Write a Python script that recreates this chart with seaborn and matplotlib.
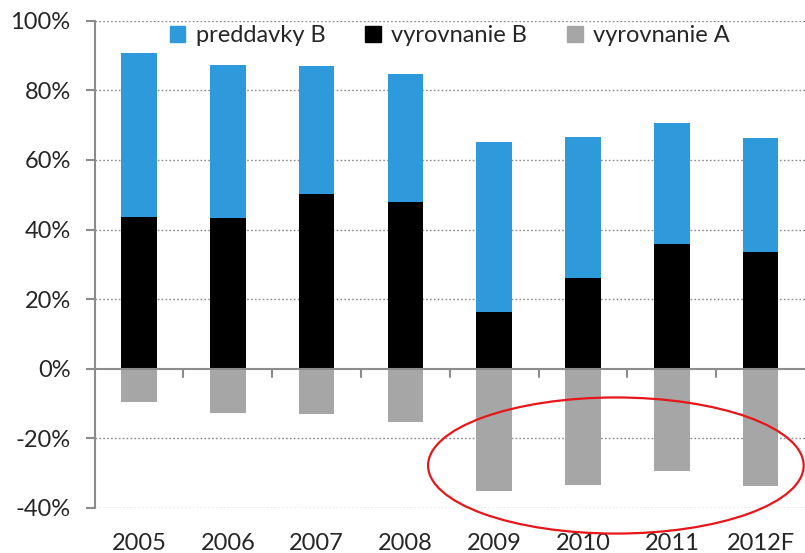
import matplotlib.pyplot as plt
import pandas as pd
import seaborn as sns
from matplotlib.patches import Ellipse, Patch
from matplotlib.ticker import FuncFormatter

years = ["2005", "2006", "2007", "2008", "2009", "2010", "2011", "2012F"]
vyrovnanie_b = [43.6, 43.3, 50.3, 47.9, 16.3, 26.1, 35.9, 33.5]
preddavky_b = [47.0, 43.9, 36.7, 36.7, 48.9, 40.4, 34.7, 32.9]
vyrovnanie_a = [-9.5, -12.8, -12.9, -15.4, -35.0, -33.4, -29.3, -33.6]

BLUE = "#2e9adc"
GREY = "#a6a6a6"

sns.set_theme(style="white")
plt.rcParams["font.family"] = ["Lato", "DejaVu Sans"]

df = pd.DataFrame({"year": years, "vb": vyrovnanie_b, "pb": preddavky_b, "va": vyrovnanie_a})

fig = plt.figure(figsize=(8.05, 5.53), dpi=100)
ax = fig.add_axes([0.1176, 0.0814, 0.8824, 0.8812])

sns.barplot(data=df, x="year", y="vb", color="black", width=0.4, saturation=1,
            ax=ax, linewidth=0)
sns.barplot(data=df, x="year", y="pb", bottom=df["vb"], color=BLUE, width=0.4,
            saturation=1, ax=ax, linewidth=0)
sns.barplot(data=df, x="year", y="va", color=GREY, width=0.4, saturation=1,
            ax=ax, linewidth=0)

ax.set_ylim(-40, 100)
ax.set_xlim(-0.5, len(years) - 0.5)
ax.set_xlabel("")
ax.set_ylabel("")
ax.set_yticks(range(-40, 101, 20))
ax.yaxis.set_major_formatter(FuncFormatter(lambda v, _: f"{v:.0f}%"))
for y in range(-40, 101, 20):
    if y != 0:
        ax.axhline(y, color="#8a8a8a", lw=1.0, ls=(0, (1.2, 1.6)), zorder=0)

for s in ("top", "right", "bottom"):
    ax.spines[s].set_visible(False)
ax.spines["left"].set_color("#8c8c8c")
ax.spines["left"].set_linewidth(1.5)
ax.axhline(0, color="#8c8c8c", lw=1.5, zorder=3)

# separators between categories on the zero line
for i in range(1, len(years)):
    ax.plot([i - 0.5, i - 0.5], [0, -2.3], color="#8c8c8c", lw=1.5, zorder=3,
            clip_on=False)

ax.tick_params(axis="y", which="both", left=True, length=6.3, width=1.5,
               color="#8c8c8c", labelsize=17, pad=11)
ax.tick_params(axis="x", bottom=False, labelsize=17, pad=12)

handles = [Patch(color=BLUE, label="preddavky B"),
           Patch(color="black", label="vyrovnanie B"),
           Patch(color=GREY, label="vyrovnanie A")]
ax.legend(handles=handles, loc="upper center", bbox_to_anchor=(0.50, 1.015),
          ncol=3, frameon=False, fontsize=17, handlelength=0.65, handleheight=0.65,
          handletextpad=0.45, columnspacing=1.7, borderaxespad=0.1)

ax.add_patch(Ellipse((5.37, -27.8), 4.23, 39.1, fill=False, edgecolor="#e8161b",
                     lw=1.6, clip_on=False, zorder=5))

fig.savefig("out.png", dpi=100)
